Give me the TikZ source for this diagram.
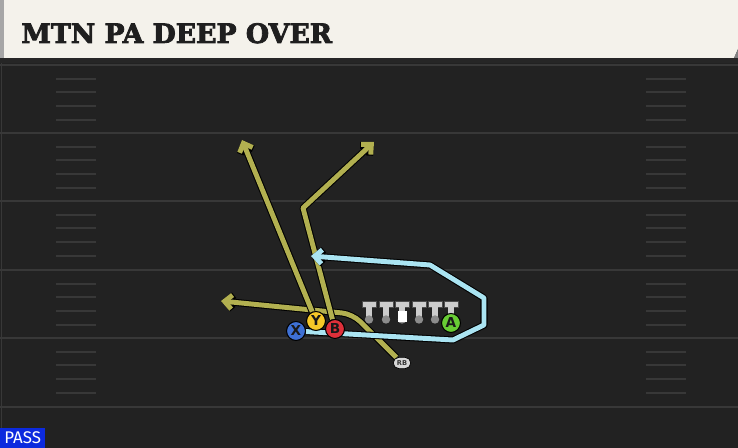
\documentclass[tikz,border=0pt]{standalone}
\usepackage{fontspec}
\usetikzlibrary{arrows.meta,shapes.misc}
\newfontfamily\titlefont{DejaVu Serif}[UprightFont={* Bold},UprightFeatures={FakeBold=3}]
\newfontfamily\tagfont{Fira Sans}
\newfontfamily\letterfont{DejaVu Sans}
\definecolor{fieldbg}{RGB}{34,34,34}
\definecolor{yardgray}{RGB}{56,56,56}
\definecolor{bannercream}{RGB}{244,242,235}
\definecolor{routeylw}{RGB}{178,176,80}
\definecolor{routecyan}{RGB}{170,228,242}
\definecolor{xblue}{RGB}{62,112,212}
\definecolor{yyellow}{RGB}{246,200,40}
\definecolor{bred}{RGB}{222,48,58}
\definecolor{agreen}{RGB}{104,204,52}
\definecolor{passblue}{RGB}{12,42,222}
\definecolor{linegray}{RGB}{205,205,205}
\definecolor{knobgray}{RGB}{140,140,140}
\pgfdeclarelayer{front}
\pgfsetlayers{main,front}
\tikzset{
 yardline/.style={draw=yardgray,line width=1.1pt},
 hashline/.style={draw=yardgray,line width=0.9pt},
 route/.style={draw=#1,line width=2.8pt,line join=round,
  preaction={draw=black,line width=4pt,line join=round}},
 routetip/.style={-{Straight Barb[length=4.2pt,width=8pt]}},
 player/.style={circle,fill=#1,draw=black,line width=0.6pt,minimum size=10.8pt,
  inner sep=0pt,text=black!90,font=\letterfont\bfseries\fontsize{7.8}{7.8}\selectfont},
 rbtag/.style={rounded rectangle,fill=linegray!80,draw=black,line width=0.4pt,
  minimum width=10pt,minimum height=6.4pt,inner sep=0pt,
  font=\letterfont\bfseries\fontsize{3.8}{3.8}\selectfont,text=black!80},
 passtag/.style={fill=passblue,text=white,minimum width=25.5pt,minimum height=11.3pt,
  inner sep=0pt,font=\tagfont\fontsize{9.6}{9.6}\selectfont}
}
\begin{document}
\begin{tikzpicture}[x=0.02cm,y=-0.02cm]
 \useasboundingbox (0,0) rectangle (738,448);
 \fill[fieldbg] (0,0) rectangle (738,448);
 \foreach \y in {65,133,201,270,338,407}
  \draw[yardline] (0,\y) -- (738,\y);
 \foreach \y in {65,133,201,270,338}
  \foreach \d in {14,27,41,55} {
   \draw[hashline] (56,\y+\d) -- (96,\y+\d);
   \draw[hashline] (646,\y+\d) -- (686,\y+\d);
  }
 \draw[yardline] (1.5,62) -- (1.5,448);
 \fill[black!85] (0,57) rectangle (738,63);
 \fill[bannercream] (0,0) -- (738,0) -- (738,49) -- (734,58) -- (0,58) -- cycle;
 \fill[gray] (738,49) -- (734,58) -- (738,58) -- cycle;
 \fill[gray!70] (0,0) rectangle (4,58);
 \node[anchor=base west,inner sep=0pt,text=black!88,
  font=\titlefont\fontsize{15.2}{15.2}\selectfont] (title) at (21,43) {MTN PA DEEP OVER};
 \foreach \x in {369,386,402,419,435,451} {
  \fill[black!70] (\x-7.5,301.5) rectangle (\x+7.5,308.5);
  \fill[linegray] (\x-6.5,302.5) rectangle (\x+6.5,307.5);
  \fill[linegray] (\x-3,307) rectangle (\x+3,318);
  \fill[knobgray] (\x,319.5) circle (4.2);
 }
 \fill[white] (397.5,311) rectangle (406.5,322);
 \begin{pgfonlayer}{front}
  \node[player=xblue] (X) at (296,331) {X};
  \node[player=yyellow] (Y) at (316,321) {Y};
  \node[player=bred] (B) at (335,329) {B};
  \node[player=agreen] (A) at (451,323) {A};
  \node[rbtag] (RB) at (402,363) {RB};
 \end{pgfonlayer}
 \coordinate (cyanend) at (311,256);
 \coordinate (rbend) at (221,301);
 \coordinate (yend) at (242,140);
 \coordinate (bbreak) at (303,208);
 \coordinate (bend) at (374,142);
 \draw[route=routeylw,routetip,rounded corners=6pt] (RB) -- (352.5,314) -- (rbend);
 \draw[route=routeylw,routetip] (Y) -- (yend);
 \draw[route=routeylw,routetip] (B) -- (bbreak) -- (bend);
 \draw[route=routecyan,routetip] (X) -- (453,340) -- (484,325) -- (484,298) -- (430,265) -- (cyanend);
 \node[passtag,anchor=south west] (pass) at (0,448) {PASS};
\end{tikzpicture}
\end{document}
